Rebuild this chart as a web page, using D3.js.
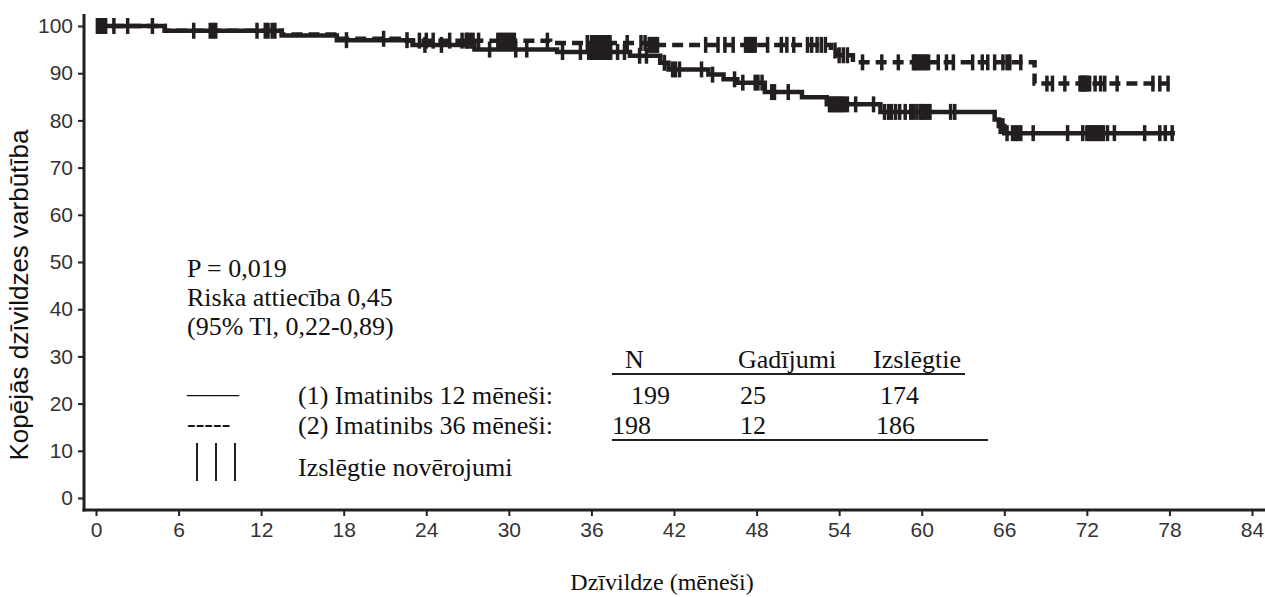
<!DOCTYPE html>
<html>
<head>
<meta charset="utf-8">
<script src="https://cdn.jsdelivr.net/npm/d3@7"></script>
<style>
  body { margin: 0; background: #fff; }
  .tick text { font-family: Arial, "Liberation Sans", sans-serif; }
</style>
</head>
<body>
<script>
const W = 1265, H = 597;
const ink = "#231f20";

// Kaplan-Meier steps, survival (%) after each event time (months)
const arm12Times = [0, 5.0, 13.5, 17.5, 23.0, 27.5, 33.5, 38.8, 41.0, 41.6, 44.5, 45.6, 46.6, 48.6, 51.3, 53.1, 57.0, 65.3, 65.6, 66.0];
const arm12Surv  = [100, 99.0, 98.0, 97.0, 96.0, 95.0, 94.5, 93.7, 92.2, 90.8, 89.7, 88.7, 88.0, 86.0, 84.9, 83.4, 81.8, 80.2, 78.8, 77.3];
const arm12End = 78.4;

const arm36Times = [0, 5.0, 13.5, 17.5, 22.0, 33.0, 40.0, 53.4, 53.9, 55.0, 68.2];
const arm36Surv  = [100, 99.0, 98.2, 97.3, 96.9, 96.4, 96.0, 94.8, 93.8, 92.3, 87.8];
const arm36End = 78.0;

// censored observations (months)
const arm12Cens = [0.1, 0.25, 0.4, 0.55, 0.7, 2.3, 4.1, 7.1, 8.5, 11.7, 12.5, 13.0, 18.2, 22.6,
  23.9, 25.1, 28.6, 30.5, 31.3, 33.9, 35.2, 35.8, 35.95, 36.1, 36.25, 36.4, 36.55, 36.7, 36.85,
  37.0, 37.2, 37.4, 37.9, 38.4, 39.5, 40.0, 41.3, 41.9, 42.1, 42.4, 44.0, 44.8, 46.4, 47.0,
  47.9, 48.1, 48.4, 49.1, 49.3, 50.3, 53.3, 53.45, 53.6, 53.75, 53.9, 54.05, 54.2, 54.4, 54.6,
  55.2, 56.5, 57.3, 57.6, 57.8, 58.1, 58.4, 58.8, 59.2, 59.4, 59.65, 59.9, 60.0, 60.2, 60.4,
  60.6, 62.1, 62.4, 65.7, 65.9, 66.2, 66.6, 66.8, 67.0, 67.2, 68.1, 70.6, 71.7, 72.0, 72.15,
  72.3, 72.45, 72.6, 72.75, 72.9, 73.05, 73.2, 73.5, 74.0, 76.2, 77.3, 77.7, 78.2];
const arm36Cens = [0.2, 0.5, 1.3, 8.3, 8.7, 12.3, 12.8, 20.9,
  23.5, 24.0, 24.5, 25.7, 26.6, 26.9, 27.0, 27.2, 27.4, 27.8, 29.2, 29.4, 29.6, 29.8, 30.0,
  30.2, 30.4, 32.8, 35.7, 36.0, 36.15, 36.3, 36.45, 36.6, 36.75, 36.9, 37.05, 37.2, 37.35,
  38.6, 39.6, 39.9, 40.2, 40.35, 40.5, 40.65, 40.8, 44.3, 45.2, 45.7, 46.3, 47.2, 47.4, 47.5,
  47.6, 47.75, 47.9, 48.8, 49.8, 50.2, 50.7, 51.7, 52.0, 52.4, 52.7, 53.0, 53.7, 54.0, 54.3,
  54.6, 55.7, 57.1, 58.3, 59.4, 59.5, 59.6, 59.75, 59.9, 60.05, 60.2, 60.35, 60.5, 61.2, 61.8,
  62.3, 63.7, 64.4, 64.8, 65.3, 65.9, 66.2, 66.4, 67.2, 69.1, 69.5, 70.4, 71.5, 71.6, 71.7,
  71.8, 71.9, 72.0, 72.2, 72.6, 73.0, 73.3, 74.2, 76.8, 77.3, 77.9];

const xTicks = [0, 6, 12, 18, 24, 30, 36, 42, 48, 54, 60, 66, 72, 78, 84];
const yTicks = [0, 10, 20, 30, 40, 50, 60, 70, 80, 90, 100];

const statLines = ["P = 0,019", "Riska attiecība 0,45", "(95% Tl, 0,22-0,89)"];
const tableHead = ["N", "Gadījumi", "Izslēgtie"];
const groupNames = ["(1) Imatinibs 12 mēneši:", "(2) Imatinibs 36 mēneši:"];
const groupN = ["199", "198"];
const groupEvents = ["25", "12"];
const groupCens = ["174", "186"];

const svg = d3.select("body").append("svg")
  .attr("width", W)
  .attr("height", H);

const x = d3.scaleLinear().domain([0, 84]).range([96, 1252]);
const y = d3.scaleLinear().domain([0, 100]).range([498, 26]);

const axisX = 84, axisY = 510;

// axes
const gx = svg.append("g")
  .attr("transform", `translate(0,${axisY})`)
  .call(d3.axisBottom(x).tickValues(xTicks).tickSize(6).tickPadding(6));
const gy = svg.append("g")
  .attr("transform", `translate(${axisX},0)`)
  .call(d3.axisLeft(y).tickValues(yTicks).tickSize(6).tickPadding(5));

[gx, gy].forEach(g => {
  g.select(".domain").remove();
  g.selectAll(".tick line").attr("stroke", ink).attr("stroke-width", 2);
  g.selectAll(".tick text").attr("fill", "#333").style("font-size", "21px");
});

svg.append("line")
  .attr("x1", axisX).attr("x2", axisX)
  .attr("y1", 14).attr("y2", axisY + 1.5)
  .attr("stroke", ink).attr("stroke-width", 3);
svg.append("line")
  .attr("x1", axisX - 1.5).attr("x2", W)
  .attr("y1", axisY).attr("y2", axisY)
  .attr("stroke", ink).attr("stroke-width", 3);

// axis titles
svg.append("text")
  .attr("transform", "translate(28,295) rotate(-90)")
  .attr("text-anchor", "middle")
  .style("font-family", "Arial, 'Liberation Sans', sans-serif")
  .style("font-size", "26px")
  .attr("fill", "#111")
  .text("Kopējās dzīvildzes varbūtība");

svg.append("text")
  .attr("x", 662).attr("y", 590)
  .attr("text-anchor", "middle")
  .style("font-family", "'Liberation Serif', 'Times New Roman', serif")
  .style("font-size", "24px")
  .attr("fill", "#111")
  .text("Dzīvildze (mēneši)");

// curves
const line = d3.line()
  .x(d => x(d[0]))
  .y(d => y(d[1]))
  .curve(d3.curveStepAfter);

function drawArm(times, surv, end, cens, dash) {
  const pts = times.map((t, i) => [t, surv[i]]);
  pts.push([end, surv[surv.length - 1]]);
  svg.append("path")
    .attr("d", line(pts))
    .attr("fill", "none")
    .attr("stroke", ink)
    .attr("stroke-width", 4.5)
    .attr("stroke-dasharray", dash);

  const survAt = t => surv[Math.max(0, d3.bisectRight(times, t) - 1)];
  svg.append("g").selectAll("line")
    .data(cens)
    .join("line")
    .attr("x1", d => x(d)).attr("x2", d => x(d))
    .attr("y1", d => y(survAt(d)) - 8)
    .attr("y2", d => y(survAt(d)) + 8)
    .attr("stroke", ink)
    .attr("stroke-width", 3.5);
}

drawArm(arm36Times, arm36Surv, arm36End, arm36Cens, "11,6");
drawArm(arm12Times, arm12Surv, arm12End, arm12Cens, null);

// legend / statistics
const serif = "'Liberation Serif', 'Times New Roman', serif";
const note = svg.append("g")
  .style("font-family", serif)
  .style("font-size", "26px")
  .attr("fill", "#111");

note.selectAll("text.stat")
  .data(statLines)
  .join("text")
  .attr("class", "stat")
  .attr("x", 187)
  .attr("y", (d, i) => 277 + i * 29)
  .text(d => d);

const colX = [625, 738, 873];
note.selectAll("text.head")
  .data(tableHead)
  .join("text")
  .attr("class", "head")
  .attr("x", (d, i) => colX[i])
  .attr("y", 368)
  .text(d => d);

note.append("line")
  .attr("x1", 612).attr("x2", 965)
  .attr("y1", 374).attr("y2", 374)
  .attr("stroke", ink).attr("stroke-width", 2);

const rowY = [404, 434];
note.selectAll("text.grp")
  .data(groupNames)
  .join("text")
  .attr("class", "grp")
  .attr("x", 298)
  .attr("y", (d, i) => rowY[i])
  .text(d => d);

note.append("text").attr("x", 187).attr("y", rowY[0] - 2).text("——");
note.append("text").attr("x", 187).attr("y", rowY[1] - 2).text("-----");

const nX = [631, 612], eX = [740, 740], cX = [880, 876];
groupN.forEach((v, i) => note.append("text").attr("x", nX[i]).attr("y", rowY[i]).text(v));
groupEvents.forEach((v, i) => note.append("text").attr("x", eX[i]).attr("y", rowY[i]).text(v));
groupCens.forEach((v, i) => note.append("text").attr("x", cX[i]).attr("y", rowY[i]).text(v));

note.append("line")
  .attr("x1", 612).attr("x2", 988)
  .attr("y1", 440).attr("y2", 440)
  .attr("stroke", ink).attr("stroke-width", 2);

[197, 216, 235].forEach(bx => note.append("line")
  .attr("x1", bx).attr("x2", bx)
  .attr("y1", 443).attr("y2", 481)
  .attr("stroke", ink).attr("stroke-width", 2));

note.append("text").attr("x", 298).attr("y", 476).text("Izslēgtie novērojumi");
</script>
</body>
</html>
